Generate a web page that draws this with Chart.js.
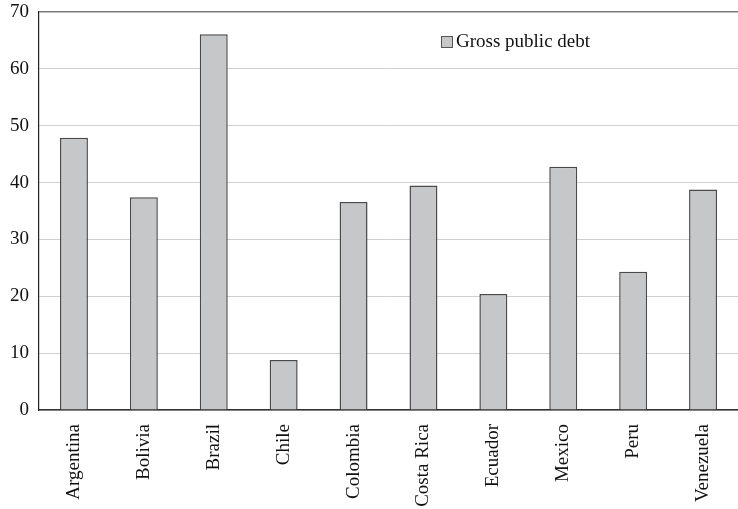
<!DOCTYPE html>
<html>
<head>
<meta charset="utf-8">
<script src="https://cdn.jsdelivr.net/npm/chart.js@4/dist/chart.umd.min.js"></script>
<style>
  html, body { margin: 0; padding: 0; background: #fff; }
  #wrap { width: 738px; height: 509px; }
</style>
</head>
<body>
<div id="wrap"><canvas id="debt-chart"></canvas></div>
<script>
const countries = ["Argentina", "Bolivia", "Brazil", "Chile", "Colombia", "Costa Rica", "Ecuador", "Mexico", "Peru", "Venezuela"];
const grossDebt = [47.9, 37.4, 66.1, 8.8, 36.6, 39.5, 20.4, 42.8, 24.3, 38.8];
const yTicks = [0, 10, 20, 30, 40, 50, 60, 70];

const serif = "'Liberation Serif', 'DejaVu Serif', serif";

// legend drawn inside the plot, like the original
const innerLegend = {
    id: "innerLegend",
    afterDraw(chart) {
        const ctx = chart.ctx;
        const ds = chart.data.datasets[0];
        ctx.save();
        ctx.fillStyle = ds.backgroundColor;
        ctx.strokeStyle = "#555";
        ctx.lineWidth = 1;
        ctx.fillRect(441.5, 36.5, 11, 11);
        ctx.strokeRect(441.5, 36.5, 11, 11);
        ctx.fillStyle = "#111";
        ctx.font = "19px " + serif;
        ctx.textBaseline = "middle";
        ctx.fillText(ds.label, 456, 42);
        ctx.restore();
    }
};

const ctx = document.getElementById("debt-chart");

new Chart(ctx, {
    type: "bar",
    data: {
        labels: countries,
        datasets: [{
            label: "Gross public debt",
            data: grossDebt,
            backgroundColor: "#c6c7c9",
            borderColor: "#4a4a4a",
            borderWidth: 1.5,
            categoryPercentage: 1,
            barPercentage: 0.4
        }]
    },
    options: {
        responsive: true,
        maintainAspectRatio: false,
        animation: false,
        layout: {
            padding: { top: 12, right: 0, left: 0, bottom: 0 }
        },
        plugins: {
            legend: { display: false },
            tooltip: { enabled: false }
        },
        scales: {
            x: {
                grid: { display: false },
                border: { color: "#333", width: 1.5 },
                ticks: {
                    color: "#111",
                    font: { family: serif, size: 19 },
                    minRotation: 90,
                    maxRotation: 90,
                    padding: 6
                },
                afterFit: function(scale) {
                    scale.height = 99;
                }
            },
            y: {
                min: 0,
                max: 70,
                afterBuildTicks: function(scale) {
                    scale.ticks = yTicks.map(v => ({ value: v }));
                },
                grid: {
                    color: function(c) {
                        return c.tick && c.tick.value === 70 ? "#7a7a7a" : "#cfcfcf";
                    },
                    lineWidth: function(c) {
                        return c.tick && c.tick.value === 70 ? 1.5 : 1;
                    },
                    drawTicks: false
                },
                border: { color: "#222", width: 1.2 },
                ticks: {
                    color: "#111",
                    font: { family: serif, size: 19 },
                    padding: 10
                },
                afterFit: function(scale) {
                    scale.width = 39;
                    scale.paddingTop = 0;
                    scale.paddingBottom = 0;
                }
            }
        }
    },
    plugins: [innerLegend]
});
</script>
</body>
</html>
